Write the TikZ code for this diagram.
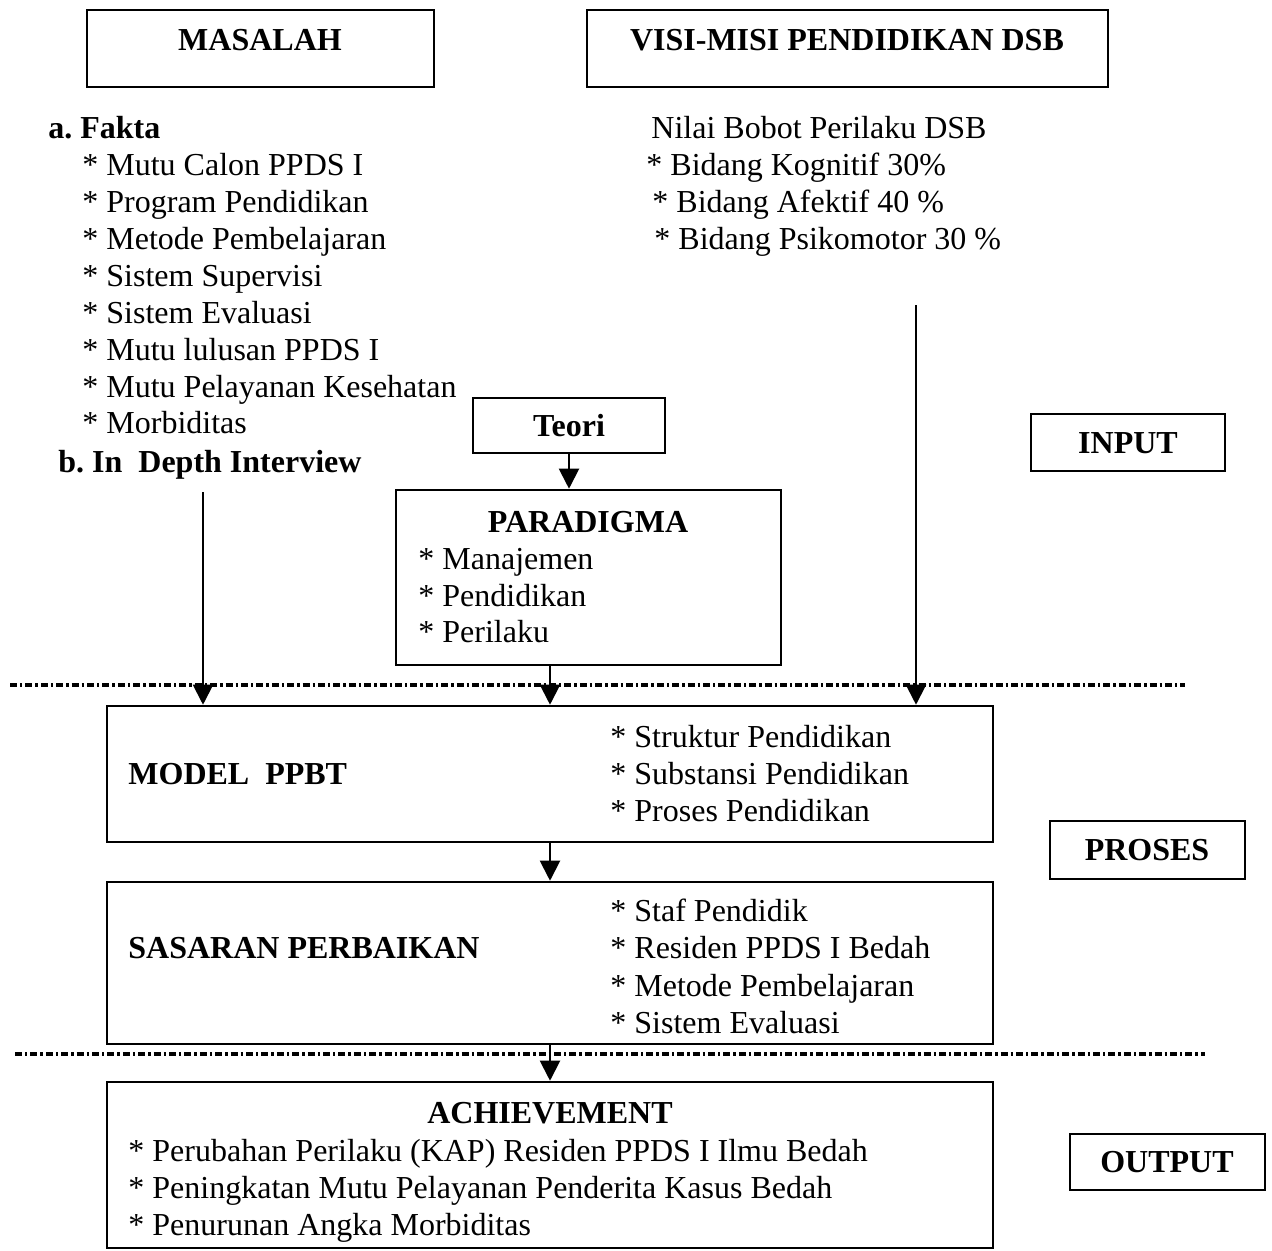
\documentclass[tikz,border=0pt]{standalone}
\usepackage{fontspec}
\setmainfont{Liberation Serif}
\usetikzlibrary{arrows.meta,fit}
\begin{document}
\begin{tikzpicture}[x=0.5pt,y=-0.5pt,
  box/.style={draw,line width=1.3pt,inner sep=0pt},
  txt/.style={anchor=base west,inner sep=0pt,font=\fontsize{16}{18.5}\selectfont},
  btxt/.style={anchor=base west,inner sep=0pt,font=\fontsize{16}{18.5}\selectfont\bfseries},
  ttl/.style={anchor=base,inner sep=0pt,font=\fontsize{16}{18.5}\selectfont\bfseries},
  arr/.style={line width=1pt,-{Triangle[length=10pt,width=10pt]}},
  sepline/.style={line width=1.6pt,dash pattern=on 3.5pt off 1.5pt on 1.2pt off 1.5pt}]
\useasboundingbox[fill=white] (0,0) rectangle (1272,1250);

% top boxes
\node[box,fit={(87,10) (434,87)}] (masalah) {};
\node[ttl] (masalahT) at (260,50) {MASALAH};
\node[box,fit={(587,10) (1108,87)}] (visi) {};
\node[ttl] (visiT) at (847,50) {VISI-MISI PENDIDIKAN DSB};

% left list
\node[btxt] (fakta) at (48,138) {a.\ Fakta};
\node[txt] (f1) at (82,175) {* Mutu Calon PPDS I};
\node[txt] (f2) at (82,212) {* Program Pendidikan};
\node[txt] (f3) at (82,249) {* Metode Pembelajaran};
\node[txt] (f4) at (82,286) {* Sistem Supervisi};
\node[txt] (f5) at (82,323) {* Sistem Evaluasi};
\node[txt] (f6) at (82,360) {* Mutu lulusan PPDS I};
\node[txt] (f7) at (82,397) {* Mutu Pelayanan Kesehatan};
\node[txt] (f8) at (82,433) {* Morbiditas};
\node[btxt] (interview) at (58,472) {b.\ In\ \ Depth Interview};

% right list
\node[txt] (nilai) at (651,138) {Nilai Bobot Perilaku DSB};
\node[txt] (n1) at (646,175) {* Bidang Kognitif 30\%};
\node[txt] (n2) at (652,212) {* Bidang Afektif 40 \%};
\node[txt] (n3) at (654,249) {* Bidang Psikomotor 30 \%};

% teori and paradigma
\node[box,fit={(473,398) (665,453)}] (teori) {};
\node[ttl] (teoriT) at (569,436) {Teori};
\node[box,fit={(396,490) (781,665)}] (paradigma) {};
\node[ttl] (paradigmaT) at (588,532) {PARADIGMA};
\node[txt] (p1) at (418,569) {* Manajemen};
\node[txt] (p2) at (418,606) {* Pendidikan};
\node[txt] (p3) at (418,642) {* Perilaku};

% side labels
\node[box,fit={(1031,414) (1225,471)}] (input) {};
\node[ttl] (inputT) at (1128,453) {INPUT};
\node[box,fit={(1050,821) (1245,879)}] (proses) {};
\node[ttl] (prosesT) at (1147,860) {PROSES};
\node[box,fit={(1070,1134) (1265,1190)}] (output) {};
\node[ttl] (outputT) at (1167,1172) {OUTPUT};

% model
\node[box,fit={(107,706) (993,842)}] (model) {};
\node[btxt] (modelT) at (128,784) {MODEL\ \ PPBT};
\node[txt] (m1) at (610,747) {* Struktur Pendidikan};
\node[txt] (m2) at (610,784) {* Substansi Pendidikan};
\node[txt] (m3) at (610,821) {* Proses Pendidikan};

% sasaran
\node[box,fit={(107,882) (993,1044)}] (sasaran) {};
\node[btxt] (sasaranT) at (128,958) {SASARAN PERBAIKAN};
\node[txt] (s1) at (610,921) {* Staf Pendidik};
\node[txt] (s2) at (610,958) {* Residen PPDS I Bedah};
\node[txt] (s3) at (610,996) {* Metode Pembelajaran};
\node[txt] (s4) at (610,1033) {* Sistem Evaluasi};

% achievement
\node[box,fit={(107,1082) (993,1248)}] (ach) {};
\node[ttl] (achT) at (550,1123) {ACHIEVEMENT};
\node[txt] (a1) at (128,1161) {* Perubahan Perilaku (KAP) Residen PPDS I Ilmu Bedah};
\node[txt] (a2) at (128,1198) {* Peningkatan Mutu Pelayanan Penderita Kasus Bedah};
\node[txt] (a3) at (128,1235) {* Penurunan Angka Morbiditas};

% separator lines
\draw[sepline] (10,685) -- (1185,685);
\draw[sepline] (15,1054) -- (1205,1054);

% connectors
\coordinate (lstart) at (203,492);
\coordinate (rstart) at (916,305);
\draw[arr] (teori.south) -- (teori.south |- paradigma.north);
\draw[arr] (lstart) -- (lstart |- model.north);
\draw[arr] (rstart) -- (rstart |- model.north);
\draw[arr] (paradigma.south -| model.north) -- (model.north);
\draw[arr] (model.south) -- (sasaran.north);
\draw[arr] (sasaran.south) -- (ach.north);
\end{tikzpicture}
\end{document}
